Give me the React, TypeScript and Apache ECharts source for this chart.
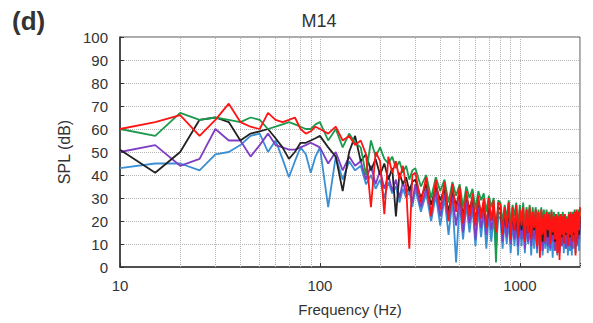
import React, { useEffect, useRef } from "react";
import * as echarts from "echarts";

const freqs = [
  10, 15, 20, 25, 30, 35, 40, 45, 50, 55, 60, 65, 70, 75, 80, 85, 90, 95,
  100, 110, 120, 130, 140, 150, 160, 170, 180, 190, 200, 210, 220, 230, 240, 250, 260, 270, 280, 290,
  300, 320, 340, 360, 380, 400, 420, 440, 460, 480, 500, 520, 540, 560, 580, 600, 620, 640, 660, 680, 700, 720, 740, 760, 780,
  800, 820, 840, 860, 880, 900, 920, 940, 960, 980,
  1000, 1020, 1040, 1060, 1080, 1100, 1120, 1140, 1160, 1180,
  1200, 1220, 1240, 1260, 1280, 1300, 1320, 1340, 1360, 1380,
  1400, 1420, 1440, 1460, 1480, 1500, 1520, 1540, 1560, 1580,
  1600, 1620, 1640, 1660, 1680, 1700, 1720, 1740, 1760, 1780,
  1800, 1820, 1840, 1860, 1880, 1900, 1920, 1940, 1960, 1980,
  2000,
];

const redSPL = [
  60, 63, 66, 57, 64, 71, 63, 61, 60, 67, 64, 63, 64, 65, 60, 58, 59, 61,
  60, 58, 61, 55, 57, 53, 55, 49, 26, 50, 46, 23, 48, 41, 46, 38, 44, 35, 8, 40,
  41, 28, 39, 22, 38, 25, 37, 20, 36, 24, 35, 19, 33, 22, 32, 18, 31, 21, 30, 17, 30, 20, 29, 15, 28,
  27, 14, 26, 17, 28, 12, 26, 16, 27, 13,
  25, 18, 26, 11, 25, 15, 26, 12, 24, 17,
  25, 9, 24, 4, 25, 14, 23, 11, 24, 16,
  23, 10, 24, 15, 22, 12, 23, 6, 22, 3,
  23, 14, 22, 10, 23, 15, 21, 9, 23, 14,
  24, 11, 23, 15, 24, 5, 25, 13, 24, 16,
  26,
];

const greenSPL = [
  60, 57, 67, 64, 65, 64, 63, 65, 64, 60, 61, 62, 63, 62, 61, 60, 60, 62,
  63, 55, 60, 52, 58, 54, 52, 40, 55, 48, 52, 47, 45, 48, 43, 46, 41, 44, 38, 42,
  43, 35, 40, 30, 39, 33, 38, 28, 37, 31, 36, 26, 35, 30, 34, 25, 33, 29, 32, 24, 31, 26, 30, 2, 29,
  28, 19, 27, 21, 29, 18, 27, 22, 28, 17,
  27, 20, 28, 16, 26, 21, 27, 19, 26, 18,
  26, 20, 25, 17, 26, 19, 25, 16, 25, 21,
  24, 18, 25, 17, 24, 20, 23, 16, 24, 19,
  23, 17, 24, 20, 23, 15, 22, 19, 24, 18,
  23, 17, 24, 20, 25, 18, 24, 19, 25, 21,
  26,
];

const blackSPL = [
  51, 41, 50, 64, 65, 63, 55, 58, 59, 60, 56, 52, 47, 50, 54, 54, 55, 56,
  57, 52, 48, 33, 50, 57, 46, 49, 42, 47, 40, 45, 38, 43, 22, 41, 36, 39, 33, 37,
  38, 30, 36, 27, 35, 29, 34, 24, 33, 27, 32, 22, 31, 25, 30, 20, 29, 23, 28, 18, 27, 21, 26, 17, 26,
  25, 15, 24, 17, 25, 14, 24, 16, 24, 13,
  23, 16, 24, 12, 23, 15, 23, 13, 22, 16,
  23, 12, 22, 15, 22, 11, 22, 14, 21, 13,
  21, 12, 21, 14, 20, 11, 21, 13, 20, 10,
  20, 13, 20, 11, 21, 14, 20, 12, 21, 13,
  21, 12, 22, 14, 21, 11, 22, 13, 22, 14,
  22,
];

const purpleSPL = [
  50, 53, 44, 47, 60, 55, 55, 48, 53, 58, 53, 52, 51, 51, 52, 53, 54, 53,
  52, 45, 50, 42, 48, 44, 46, 38, 44, 36, 42, 34, 40, 33, 38, 30, 37, 32, 35, 28,
  36, 26, 34, 24, 33, 22, 32, 20, 31, 18, 30, 15, 29, 19, 28, 12, 27, 17, 26, 14, 25, 16, 24, 13, 24,
  23, 11, 22, 13, 23, 10, 22, 12, 22, 9,
  22, 12, 21, 8, 21, 11, 21, 9, 20, 12,
  21, 8, 20, 11, 20, 7, 20, 10, 19, 9,
  19, 8, 19, 11, 18, 7, 19, 10, 18, 6,
  18, 9, 18, 11, 18, 8, 19, 10, 18, 9,
  19, 8, 19, 11, 20, 9, 19, 10, 20, 12,
  20,
];

const blueSPL = [
  43, 45, 45, 42, 49, 50, 53, 57, 58, 50, 55, 47, 39, 46, 52, 49, 41, 48,
  52, 26, 48, 38, 46, 42, 44, 36, 40, 34, 38, 30, 37, 32, 35, 28, 34, 30, 33, 26,
  34, 24, 32, 20, 31, 18, 30, 14, 29, 2, 28, 12, 27, 15, 26, 9, 25, 13, 24, 8, 23, 11, 22, 7, 22,
  21, 8, 20, 10, 21, 6, 20, 9, 20, 5,
  20, 9, 19, 6, 19, 10, 19, 5, 18, 8,
  19, 6, 18, 9, 18, 5, 18, 8, 17, 6,
  17, 7, 17, 4, 17, 8, 16, 5, 16, 7,
  16, 9, 16, 6, 17, 8, 16, 5, 17, 7,
  17, 5, 18, 8, 17, 6, 18, 9, 18, 7,
  18,
];

const majorLabels = [10, 100, 1000];
const minorFreqs = [20, 30, 40, 50, 60, 70, 80, 90, 200, 300, 400, 500, 600, 700, 800, 900, 2000];

const seriesDefs = [
  { name: "blue", color: "#3a8fd4", values: blueSPL },
  { name: "purple", color: "#7f3fc4", values: purpleSPL },
  { name: "black", color: "#222222", values: blackSPL },
  { name: "green", color: "#1c9a4c", values: greenSPL },
  { name: "red", color: "#ff1414", values: redSPL },
];

export default function App() {
  const ref = useRef<HTMLDivElement>(null);
  useEffect(() => {
    if (!ref.current) return;
    const chart = echarts.init(ref.current, null, { renderer: "svg" });
    const font = "Liberation Sans, Arial, sans-serif";
    chart.setOption({
      animation: false,
      textStyle: { fontFamily: font },
      grid: {
        left: 120,
        right: 13,
        top: 37,
        bottom: 56,
        show: true,
        borderColor: "#555",
        borderWidth: 1,
      },
      graphic: [
        {
          type: "text",
          x: 12,
          y: 21,
          style: {
            text: "(d)",
            fontSize: 26,
            fontWeight: "bold",
            fill: "#333",
            fontFamily: font,
            verticalAlign: "middle",
          },
        },
        {
          type: "text",
          x: 319,
          y: 21,
          style: {
            text: "M14",
            fontSize: 18,
            fill: "#333",
            fontFamily: font,
            align: "center",
            verticalAlign: "middle",
          },
        },
      ],
      xAxis: {
        type: "log",
        logBase: 10,
        min: 10,
        max: 2000,
        name: "Frequency (Hz)",
        nameLocation: "middle",
        nameGap: 35,
        nameTextStyle: { fontSize: 15, color: "#333" },
        axisLine: { show: true, lineStyle: { color: "#333", width: 1.6 } },
        axisTick: { show: true, inside: true, length: 4, lineStyle: { color: "#333" } },
        axisLabel: {
          fontSize: 15,
          color: "#333",
          margin: 11,
          formatter: (v: number) => (majorLabels.indexOf(Math.round(v)) >= 0 ? String(Math.round(v)) : ""),
        },
        splitLine: { show: true, lineStyle: { type: "dotted", color: "#b5b5b5", width: 1 } },
      },
      yAxis: {
        type: "value",
        min: 0,
        max: 100,
        interval: 10,
        name: "SPL (dB)",
        nameLocation: "middle",
        nameGap: 40,
        nameTextStyle: { fontSize: 16, color: "#333" },
        axisLine: { show: true, lineStyle: { color: "#333", width: 1.6 } },
        axisTick: { show: true, inside: true, length: 4, lineStyle: { color: "#333" } },
        axisLabel: { fontSize: 15, color: "#333", margin: 12 },
        splitLine: { show: true, lineStyle: { type: "dotted", color: "#b5b5b5", width: 1 } },
      },
      series: seriesDefs.map((s, i) => ({
        type: "line",
        name: s.name,
        data: freqs.map((f, k) => [f, s.values[k]]),
        showSymbol: false,
        symbol: "none",
        lineStyle: { color: s.color, width: 1.8 },
        itemStyle: { color: s.color },
        z: 3 + i,
        markLine:
          i === 0
            ? {
                silent: true,
                symbol: "none",
                label: { show: false },
                lineStyle: { type: "dotted", color: "#b5b5b5", width: 1 },
                data: minorFreqs.map((f) => ({ xAxis: f })),
                z: 1,
              }
            : undefined,
      })),
    });
    return () => chart.dispose();
  }, []);
  return <div ref={ref} style={{ position: "absolute", left: 0, top: 0, width: 593, height: 323 }} />;
}
